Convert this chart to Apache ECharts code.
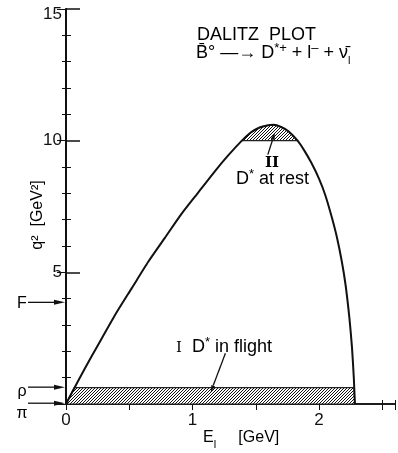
<!DOCTYPE html>
<html>
<head>
<meta charset="utf-8">
<script src="https://cdn.jsdelivr.net/npm/echarts@6/dist/echarts.min.js"></script>
<style>
  html, body { margin: 0; background: #fff; }
  #chart { width: 398px; height: 453px; }
</style>
</head>
<body>
<div id="chart"></div>
<script>
// Dalitz plot boundary (E_l in GeV, q2 in GeV^2)
var energy = [0, 0.065, 0.15, 0.26, 0.39, 0.52, 0.65, 0.78, 0.91, 1.04, 1.17, 1.28, 1.39, 1.46, 1.53, 1.59, 1.64, 1.7, 1.76, 1.83, 1.88, 1.94, 2.0, 2.05, 2.1, 2.14, 2.18, 2.21, 2.24, 2.26, 2.275, 2.283]
var qsq = [0, 0.6, 1.36, 2.3, 3.4, 4.4, 5.4, 6.3, 7.2, 8.0, 8.8, 9.43, 10.0, 10.31, 10.5, 10.58, 10.6, 10.52, 10.35, 10.0, 9.65, 9.15, 8.55, 7.92, 7.1, 6.35, 5.4, 4.5, 3.25, 2.15, 0.95, 0]
// hatched region I : D* in flight
var bandE = [0, 0.065, 2.276, 2.283]
var bandQ = [0, 0.62, 0.62, 0]
// hatched region II : D* at rest
var capE = [1.39, 1.46, 1.53, 1.59, 1.64, 1.7, 1.76, 1.83]
var capQ = [10, 10.31, 10.5, 10.58, 10.6, 10.52, 10.35, 10]
// thresholds marked on the q2 axis
var markNames = ['F', 'ρ', 'π']
var markQ = [3.86, 0.64, 0.03]
var labelDy = [0, 3, 9]

var FONT = 'Liberation Sans'
var zip = function (a, b) { return a.map(function (v, i) { return [v, b[i]] }) }

// diagonal hatching
var hatch = document.createElement('canvas')
hatch.width = hatch.height = 3
var hc = hatch.getContext('2d')
hc.fillStyle = '#fff'
hc.fillRect(0, 0, 3, 3)
hc.strokeStyle = '#111'
hc.lineWidth = 1
hc.beginPath()
hc.moveTo(0, 3); hc.lineTo(3, 0)
hc.moveTo(-1, 1); hc.lineTo(1, -1)
hc.moveTo(2, 4); hc.lineTo(4, 2)
hc.stroke()

function hatchSeries (pts) {
  return {
    type: 'custom',
    coordinateSystem: 'cartesian2d',
    data: [pts[0]],
    silent: true,
    z: 1,
    renderItem: function (params, api) {
      return {
        type: 'polygon',
        shape: { points: pts.map(function (p) { return api.coord(p) }) },
        style: { fill: { image: hatch, repeat: 'repeat' }, stroke: '#222', lineWidth: 1.2 }
      }
    }
  }
}

var chart = echarts.init(document.getElementById('chart'))
var axisLine = { lineStyle: { color: '#111', width: 1.5 } }

chart.setOption({
  animation: false,
  grid: { left: 66, top: 9, width: 334, height: 395 },
  xAxis: [
    {
      type: 'value', min: 0, max: 2.6, interval: 0.5,
      axisLine: axisLine,
      axisTick: { inside: true, length: 4, lineStyle: { color: '#111' } },
      axisLabel: {
        margin: 8, fontSize: 17, fontFamily: FONT, color: '#111',
        formatter: function (v) { return v % 1 === 0 && v <= 2 ? String(v) : '' }
      },
      splitLine: { show: false }
    },
    {
      type: 'value', min: 0, max: 2.6, interval: 0.5, position: 'top',
      axisLine: axisLine,
      axisTick: { inside: true, length: 6, lineStyle: { color: '#111' } },
      axisLabel: { show: false },
      splitLine: { show: false }
    }
  ],
  yAxis: [
    {
      type: 'value', min: 0, max: 15, interval: 5,
      axisLine: { lineStyle: { color: '#111', width: 2 } },
      axisTick: { inside: true, length: 14, lineStyle: { color: '#111', width: 1.5 } },
      minorTick: { show: true, splitNumber: 5, length: 5, lineStyle: { color: '#111' } },
      axisLabel: {
        margin: 4, fontSize: 17, fontFamily: FONT, color: '#111',
        formatter: function (v) { return v === 15 ? '{t|15}' : v ? String(v) : '' },
        rich: { t: { fontSize: 17, fontFamily: FONT, color: '#111', padding: [10, 0, 0, 0] } }
      },
      splitLine: { show: false }
    },
    {
      type: 'value', min: 0, max: 15, interval: 5, position: 'right',
      axisLine: axisLine,
      axisTick: { inside: true, length: 9, lineStyle: { color: '#111' } },
      minorTick: { show: true, splitNumber: 5, length: 4, lineStyle: { color: '#111' } },
      axisLabel: { show: false },
      splitLine: { show: false }
    }
  ],
  series: [
    hatchSeries(zip(bandE, bandQ)),
    hatchSeries(zip(capE, capQ)),
    {
      type: 'line',
      data: zip(energy, qsq),
      smooth: 0.2,
      showSymbol: false,
      silent: true,
      z: 3,
      lineStyle: { color: '#111', width: 2 }
    }
  ]
})

// annotations, placed with the chart's own scales
function px (e, q) { return chart.convertToPixel({ gridIndex: 0 }, [e, q]) }

function arrow (from, to, head, w) {
  var dx = to[0] - from[0], dy = to[1] - from[1]
  var len = Math.sqrt(dx * dx + dy * dy), ux = dx / len, uy = dy / len
  var bx = to[0] - ux * head, by = to[1] - uy * head
  return [
    { type: 'line', silent: true, z: 10, shape: { x1: from[0], y1: from[1], x2: bx, y2: by }, style: { stroke: '#111', lineWidth: 1.3 } },
    { type: 'polygon', silent: true, z: 10, shape: { points: [to, [bx - uy * w, by + ux * w], [bx + uy * w, by - ux * w]] }, style: { fill: '#111' } }
  ]
}

var NARROW = '"Liberation Sans Narrow", "Liberation Sans"'
var rich = {
  m: { fontSize: 16, fontFamily: FONT, color: '#111', verticalAlign: 'bottom', lineHeight: 18 },
  n: { fontSize: 18, fontFamily: NARROW, color: '#111', verticalAlign: 'bottom', lineHeight: 20 },
  s: { fontSize: 13, fontFamily: FONT, color: '#111', verticalAlign: 'top', lineHeight: 12 },
  b: { fontSize: 11, fontFamily: FONT, color: '#111', verticalAlign: 'bottom', lineHeight: 11, padding: [0, 0, -4, 0] },
  r: { fontSize: 15, fontFamily: 'DejaVu Serif', fontWeight: 'bold', color: '#111', verticalAlign: 'bottom', lineHeight: 18 },
  i: { fontSize: 15, fontFamily: 'DejaVu Serif', color: '#111', verticalAlign: 'bottom', lineHeight: 18 }
}

function label (x, y, text, opts) {
  return Object.assign({
    type: 'text', silent: true, z: 10, x: x, y: y,
    style: { text: text, rich: rich, textAlign: 'left', textVerticalAlign: 'middle' }
  }, opts || {})
}

var g = []
var axisX = px(0, 0)[0]
markNames.forEach(function (name, i) {
  var y = px(0, markQ[i])[1]
  g = g.concat(arrow([28, y], [axisX - 1, y], 11, 2.5))
  g.push(label(22, y + labelDy[i], '{m|' + name + '}', { style: { text: '{m|' + name + '}', rich: rich, textAlign: 'center', textVerticalAlign: 'middle' } }))
})

g.push(label(197, 34, '{n|DALITZ  PLOT}'))
g.push(label(196, 52, '{n|B\u0304\u00b0 \u2014\u2192 D}{s|*+}{n| + l}{s|\u2013}{n| + \u03bd\u0304}{b|l}'))
g.push(label(265, 162, '{r|II}'))
g.push(label(236, 178, '{n|D}{s|*}{n| at rest}'))
g.push(label(176, 346, '{i|I}{n|  D}{s|*}{n| in flight}'))
g = g.concat(arrow(px(1.595, 9.47), px(1.65, 10.3), 7, 2))
g = g.concat(arrow(px(1.26, 1.93), px(1.144, 0.45), 7, 2))

// axis titles
g.push(label(203, 437, '{m|E}{b|l}{m|     [GeV]}'))
g.push(label(37, 215, '{m|q\u00b2  [GeV\u00b2]}', {
  rotation: Math.PI / 2,
  style: { text: '{m|q\u00b2  [GeV\u00b2]}', rich: rich, textAlign: 'center', textVerticalAlign: 'middle' }
}))

chart.setOption({ graphic: g })
</script>
</body>
</html>
